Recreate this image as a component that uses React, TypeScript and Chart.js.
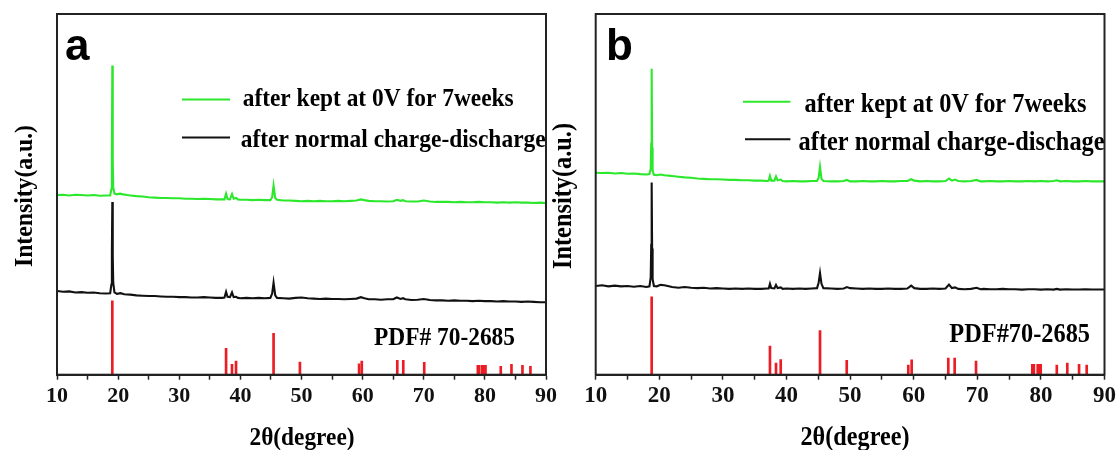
import React, { useEffect, useRef } from "react";
import { Chart, registerables } from "chart.js";
Chart.register(...registerables);

type Pt = [number, number];

// ---------- data ----------
const xTickStep = 5; // minor ticks every 5°, labels every 10°
const xMin = 10;
const xMax = 90;

const labelsA = ["after kept at 0V for 7weeks", "after normal charge-discharge"];
const labelsB = ["after kept at 0V for 7weeks", "after normal charge-dischage"];
const pdfLabelA = "PDF# 70-2685";
const pdfLabelB = "PDF#70-2685";
const xTitle = "2θ(degree)";
const yTitle = "Intensity(a.u.)";

const aGreen: Pt[] = [[10,49.8],[11,49.9],[12,49.7],[13,49.9],[14,49.8],[15,49.7],[16,49.8],[17,49.6],[18,49.7],[18.7,49.7],[18.9,51.5],[18.98,60],[19.05,85.7],[19.12,60],[19.2,52],[19.4,50.2],[19.8,50.0],[20.3,50.2],[20.8,50.0],[21.5,49.8],[22,49.7],[23,49.5],[24,49.4],[25,49.2],[26,49.1],[27,49.0],[28,49.0],[29,48.9],[30,48.9],[31,48.8],[32,48.8],[33,48.7],[34,48.8],[35,48.7],[36,48.6],[37,48.6],[37.4,48.6],[37.66,50.2],[37.9,48.7],[38.3,48.6],[38.63,50.1],[38.9,48.8],[39.29,49.0],[39.6,48.6],[40,48.5],[41,48.5],[42,48.4],[43,48.5],[44,48.4],[44.9,48.4],[45.2,49.2],[45.43,52.4],[45.7,49.0],[46,48.5],[47,48.3],[48,48.3],[49,48.2],[50,48.1],[51,48.2],[52,48.1],[53,48.2],[54,48.1],[55,48.1],[56,48.2],[57,48.1],[58,48.2],[59,48.3],[59.7,48.6],[60.3,48.4],[61,48.2],[62,48.1],[63,48.1],[64,48.0],[65,48.1],[65.6,48.5],[66.2,48.2],[66.6,48.4],[67,48.1],[68,48.0],[69,48.0],[70,48.3],[71,48.0],[72,47.9],[73,47.9],[74,47.9],[75,47.8],[76,47.9],[77,47.8],[78,47.8],[79,47.9],[80,47.8],[81,47.8],[82,47.7],[83,47.8],[84,47.7],[85,47.8],[86,47.7],[87,47.7],[88,47.6],[89,47.7],[90,47.6]];

const aBlack: Pt[] = [[10,23.2],[11,23.0],[12,23.1],[13,22.8],[14,22.9],[15,22.7],[16,22.8],[17,22.6],[18,22.5],[18.7,22.6],[18.9,25],[18.98,34],[19.05,47.9],[19.12,33],[19.2,25.5],[19.4,22.8],[19.8,22.4],[20.4,22.6],[21,22.3],[22,22.2],[23,22.0],[24,21.9],[25,21.8],[26,21.8],[27,21.7],[28,21.6],[29,21.6],[30,21.5],[31,21.5],[32,21.4],[33,21.4],[34,21.5],[35,21.4],[36,21.3],[37,21.3],[37.4,21.4],[37.66,23.0],[37.9,21.6],[38.3,21.5],[38.63,22.8],[38.9,21.5],[39.29,21.6],[39.6,21.3],[40,21.2],[41,21.3],[42,21.2],[43,21.3],[44,21.2],[44.9,21.3],[45.2,22.5],[45.43,25.5],[45.7,22.0],[46,21.3],[47,21.2],[48,21.1],[49,21.3],[50,21.4],[51,21.2],[52,21.1],[53,21.0],[54,21.1],[55,21.0],[56,21.0],[57,20.9],[58,21.0],[59,21.1],[59.7,21.5],[60.3,21.2],[61,20.9],[62,20.9],[63,20.8],[64,20.9],[65,20.9],[65.6,21.4],[66.2,21.0],[66.6,21.2],[67,20.9],[68,20.7],[69,20.8],[70,21.0],[71,20.7],[72,20.6],[73,20.6],[74,20.5],[75,20.6],[76,20.5],[77,20.5],[78,20.4],[79,20.5],[80,20.4],[81,20.4],[82,20.3],[83,20.4],[84,20.3],[85,20.3],[86,20.2],[87,20.3],[88,20.2],[89,20.1],[90,20.1]];

const aSticks: Pt[] = [[19.05,20.5],[37.66,7.3],[38.63,2.9],[39.29,3.8],[45.43,11.5],[49.74,3.5],[59.42,3.0],[59.86,3.8],[65.67,4.0],[66.65,4.0],[70.08,3.4],[78.85,2.6],[79.06,2.6],[79.55,2.6],[79.78,2.6],[80.1,2.6],[82.6,2.3],[84.35,2.9],[86.15,2.6],[87.45,2.3]];

const bGreen: Pt[] = [[10,56.0],[11,55.9],[12,56.0],[13,55.8],[14,55.9],[15,55.7],[16,55.8],[17,55.6],[18,55.5],[18.45,55.6],[18.65,57.0],[18.73,64],[18.8,84.8],[18.87,63],[18.95,56.5],[19.15,55.4],[19.6,55.3],[20.2,55.5],[20.8,55.3],[21.5,55.2],[22,55.1],[23,54.9],[24,54.7],[25,54.6],[26,54.4],[27,54.3],[28,54.2],[29,54.2],[30,54.1],[31,54.0],[32,54.0],[33,53.9],[34,53.9],[35,53.8],[36,53.8],[37,53.7],[37.2,53.8],[37.4,55.1],[37.6,53.8],[38.1,53.8],[38.35,55.0],[38.6,53.9],[39.1,54.1],[39.4,53.7],[40,53.6],[41,53.7],[42,53.6],[43,53.6],[44,53.7],[44.8,53.7],[45.05,54.6],[45.27,57.6],[45.5,54.3],[45.8,53.7],[47,53.6],[48,53.6],[49,53.7],[49.5,54.0],[50,53.6],[51,53.6],[52,53.7],[53,53.6],[54,53.6],[55,53.7],[56,53.6],[57,53.6],[58,53.7],[59,53.7],[59.6,54.2],[60.1,53.8],[61,53.6],[62,53.7],[63,53.6],[64,53.6],[65,53.7],[65.55,54.4],[66,53.8],[66.5,54.1],[67,53.7],[68,53.6],[69,53.7],[69.9,54.0],[70.5,53.6],[71,53.6],[72,53.7],[73,53.6],[74,53.6],[75,53.7],[76,53.6],[77,53.6],[78,53.7],[79,53.6],[80,53.7],[81,53.6],[82,53.7],[82.5,53.9],[83,53.6],[84,53.7],[85,53.6],[86,53.6],[87,53.7],[88,53.6],[89,53.6],[90,53.6]];

const bBlack: Pt[] = [[10,24.6],[11,24.8],[12,24.5],[13,24.7],[14,24.5],[15,24.6],[16,24.4],[17,24.6],[18,24.3],[18.45,24.5],[18.65,27],[18.73,36],[18.8,53.3],[18.87,35],[18.95,26.5],[19.15,24.6],[19.6,24.5],[20.2,24.9],[20.8,24.8],[21.5,24.5],[22,24.3],[23,24.1],[24,24.3],[25,24.1],[26,24.0],[27,24.1],[28,23.9],[29,24.0],[30,23.9],[31,23.8],[32,23.9],[33,23.8],[34,23.9],[35,23.8],[36,23.8],[37,23.9],[37.2,23.9],[37.4,25.2],[37.6,24.0],[38.1,23.9],[38.35,24.9],[38.6,24.0],[39.1,24.2],[39.4,23.8],[40,23.9],[41,23.8],[42,23.9],[43,23.8],[44,23.9],[44.8,24.0],[45.05,25.5],[45.27,28.2],[45.5,25.2],[45.8,24.0],[47,23.9],[48,23.8],[49,23.9],[49.5,24.3],[50,24.0],[51,23.9],[52,23.8],[53,23.9],[54,23.8],[55,23.8],[56,23.9],[57,23.8],[58,23.8],[59,23.9],[59.6,24.7],[60.1,24.0],[61,23.8],[62,23.8],[63,23.9],[64,23.8],[65,23.9],[65.55,25.0],[66,24.0],[66.5,24.2],[67,23.8],[68,23.7],[69,23.8],[69.9,24.1],[70.5,23.7],[71,23.8],[72,23.7],[73,23.7],[74,23.8],[75,23.7],[76,23.7],[77,23.6],[78,23.7],[79,23.7],[80,23.6],[81,23.7],[82,23.6],[82.5,23.8],[83,23.6],[84,23.7],[85,23.6],[86,23.6],[87,23.7],[88,23.6],[89,23.6],[90,23.6]];

const bSticks: Pt[] = [[18.8,21.6],[37.4,7.9],[38.35,3.2],[39.09,4.2],[45.27,12.2],[49.47,4.0],[59.15,2.7],[59.68,4.1],[65.44,4.6],[66.44,4.6],[69.8,3.8],[78.65,2.9],[78.9,2.9],[79.5,2.9],[79.7,2.9],[79.97,2.9],[82.5,2.7],[84.15,3.2],[86.0,2.9],[87.2,2.7]];

// ---------- styles ----------
const GREEN = "#2ce82c";
const BLACK = "#111111";
const RED = "#ec1c24";
const AXIS = "#222";
const SERIF = '"Liberation Serif", "Times New Roman", serif';
const SANS = '"Liberation Sans", Arial, sans-serif';
const TEXT_STRETCH_Y = 1.1;

type Panel = {
  letter: string;
  labels: string[];
  pdf: string;
  green: Pt[];
  black: Pt[];
  sticks: Pt[];
  canvasLeft: number;
  canvasWidth: number;
  padL: number;
  padR: number;
  padB: number;
  tickSize: number;
  textSize: number;
  letterPos: [number, number];
  legend: { x0: number; x1: number; ly: number; tx: number; ty: number; tw: number }[];
  pdfPos: [number, number, number];
  xTitlePos: [number, number, number];
  yTitlePos: [number, number, number];
};

function fitText(
  ctx: CanvasRenderingContext2D,
  text: string,
  x: number,
  y: number,
  font: string,
  width: number,
  align: CanvasTextAlign,
  baseline: CanvasTextBaseline,
  rotate = false
) {
  ctx.save();
  ctx.font = font;
  const m = ctx.measureText(text).width || 1;
  ctx.translate(x, y);
  if (rotate) ctx.rotate(-Math.PI / 2);
  ctx.scale(width / m, TEXT_STRETCH_Y);
  ctx.textAlign = align;
  ctx.textBaseline = baseline;
  ctx.fillText(text, 0, 0);
  ctx.restore();
}

function makeOverlay(p: Panel) {
  return {
    id: "overlay",
    afterDraw(chart: any) {
      const { ctx, chartArea: a } = chart;
      ctx.save();
      ctx.strokeStyle = AXIS;
      ctx.lineWidth = 2;
      ctx.strokeRect(a.left, a.top, a.right - a.left, a.bottom - a.top);
      ctx.fillStyle = "#000";
      ctx.font = `bold 44px ${SANS}`;
      ctx.textAlign = "left";
      ctx.textBaseline = "alphabetic";
      ctx.fillText(p.letter, p.letterPos[0], p.letterPos[1]);
      const font = `bold ${p.textSize}px ${SERIF}`;
      p.legend.forEach((it, i) => {
        const ds = chart.data.datasets[i];
        ctx.strokeStyle = ds.borderColor;
        ctx.lineWidth = 2;
        ctx.beginPath();
        ctx.moveTo(it.x0, it.ly);
        ctx.lineTo(it.x1, it.ly);
        ctx.stroke();
        fitText(ctx, ds.label, it.tx, it.ty, font, it.tw, "left", "alphabetic");
      });
      fitText(ctx, p.pdf, p.pdfPos[0], p.pdfPos[1], font, p.pdfPos[2], "left", "alphabetic");
      fitText(ctx, xTitle, p.xTitlePos[0], p.xTitlePos[1], font, p.xTitlePos[2], "center", "middle");
      fitText(ctx, yTitle, p.yTitlePos[0], p.yTitlePos[1], font, p.yTitlePos[2], "center", "middle", true);
      ctx.restore();
    },
  };
}

const toXY = (arr: Pt[]) => arr.map(([x, y]) => ({ x, y }));

function makeConfig(p: Panel): any {
  return {
    type: "line",
    data: {
      datasets: [
        { type: "line", label: p.labels[0], data: toXY(p.green), borderColor: GREEN, borderWidth: 2.1, pointRadius: 0, tension: 0 },
        { type: "line", label: p.labels[1], data: toXY(p.black), borderColor: BLACK, borderWidth: 2.1, pointRadius: 0, tension: 0 },
        { type: "bar", label: "PDF", data: toXY(p.sticks), backgroundColor: RED, borderWidth: 0, barThickness: 2 },
      ],
    },
    options: {
      responsive: false,
      animation: false,
      devicePixelRatio: 1,
      layout: { padding: { left: p.padL, right: p.padR, top: 14, bottom: p.padB } },
      plugins: { legend: { display: false }, tooltip: { enabled: false } },
      scales: {
        x: {
          type: "linear",
          min: xMin,
          max: xMax,
          offset: false,
          grid: { display: true, drawOnChartArea: false, drawTicks: true, tickLength: 5, tickWidth: 1.5, tickColor: AXIS, offset: false },
          border: { display: true, color: AXIS, width: 2 },
          ticks: {
            stepSize: xTickStep,
            autoSkip: false,
            maxRotation: 0,
            padding: 3,
            color: "#111",
            font: { family: SERIF, size: p.tickSize, weight: "bold" },
            callback: (v: number) => (v % 10 === 0 ? String(v) : ""),
          },
        },
        y: { type: "linear", min: 0, max: 100, display: false },
      },
    },
    plugins: [makeOverlay(p)],
  };
}

const panelA: Panel = {
  letter: "a",
  labels: labelsA,
  pdf: pdfLabelA,
  green: aGreen,
  black: aBlack,
  sticks: aSticks,
  canvasLeft: 0,
  canvasWidth: 560,
  padL: 57,
  padR: 12.7,
  padB: 37.9,
  tickSize: 22,
  textSize: 23,
  letterPos: [65, 60],
  legend: [
    { x0: 182, x1: 230, ly: 99.5, tx: 242.7, ty: 106, tw: 271 },
    { x0: 182, x1: 230, ly: 137.5, tx: 240.7, ty: 147, tw: 305 },
  ],
  pdfPos: [374, 345, 141],
  xTitlePos: [302, 438, 105],
  yTitlePos: [25, 196, 142],
};

const panelB: Panel = {
  letter: "b",
  labels: labelsB,
  pdf: pdfLabelB,
  green: bGreen,
  black: bBlack,
  sticks: bSticks,
  canvasLeft: 540,
  canvasWidth: 580,
  padL: 55.7,
  padR: 15.5,
  padB: 36.7,
  tickSize: 23,
  textSize: 24,
  letterPos: [66, 60],
  legend: [
    { x0: 203, x1: 250.4, ly: 101.7, tx: 264.6, ty: 112, tw: 282 },
    { x0: 205, x1: 250.4, ly: 139.3, tx: 258.6, ty: 150, tw: 306 },
  ],
  pdfPos: [409.3, 341.7, 140.7],
  xTitlePos: [315, 438, 109],
  yTitlePos: [24, 196, 146],
};

function PanelChart({ p }: { p: Panel }) {
  const ref = useRef<HTMLCanvasElement | null>(null);
  useEffect(() => {
    if (!ref.current) return;
    const chart = new Chart(ref.current, makeConfig(p));
    return () => chart.destroy();
  }, [p]);
  return (
    <canvas
      ref={ref}
      width={p.canvasWidth}
      height={450}
      style={{ position: "absolute", left: p.canvasLeft, top: 0, width: p.canvasWidth, height: 450 }}
    />
  );
}

export default function App() {
  return (
    <div style={{ position: "fixed", left: 0, top: 0, width: 1120, height: 450, background: "#fff", overflow: "hidden" }}>
      <PanelChart p={panelA} />
      <PanelChart p={panelB} />
    </div>
  );
}
